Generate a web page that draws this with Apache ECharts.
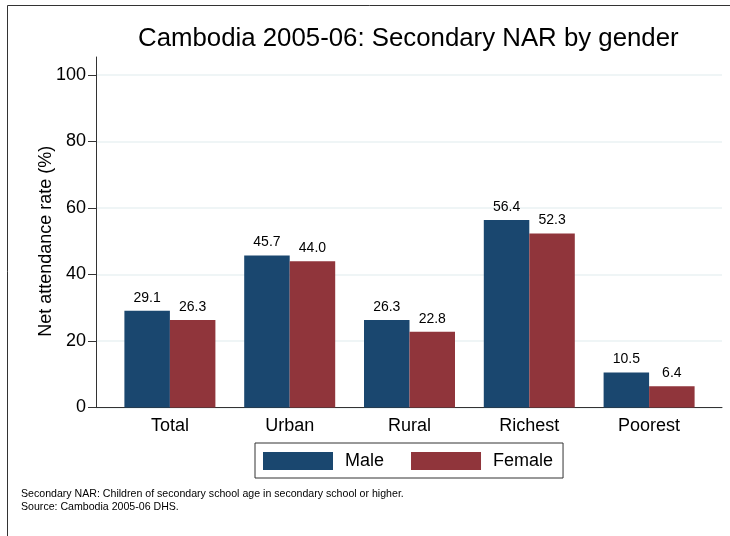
<!DOCTYPE html>
<html>
<head>
<meta charset="utf-8">
<script src="https://cdn.jsdelivr.net/npm/echarts@6/dist/echarts.min.js"></script>
<style>
html,body{margin:0;padding:0;background:#fff;}
#chart{width:730px;height:536px;}
</style>
</head>
<body>
<div id="chart"></div>
<script>
var categories = ['Total', 'Urban', 'Rural', 'Richest', 'Poorest'];
var maleValues = [29.1, 45.7, 26.3, 56.4, 10.5];
var femaleValues = [26.3, 44.0, 22.8, 52.3, 6.4];
var seriesNames = ['Male', 'Female'];
var yTicks = [0, 20, 40, 60, 80, 100];

var FONT = '"Liberation Sans", Arial, Helvetica, sans-serif';
var chart = echarts.init(document.getElementById('chart'), null, {renderer: 'canvas'});

var option = {
  backgroundColor: '#ffffff',
  animation: false,
  textStyle: {fontFamily: FONT},
  graphic: [{
    type: 'rect',
    shape: {x: 7.5, y: 5.5, width: 760, height: 600},
    style: {fill: 'none', stroke: '#333333', lineWidth: 1},
    silent: true, z: -10
  }],
  title: [{
    text: 'Cambodia 2005-06: Secondary NAR by gender',
    left: 138, top: 26, padding: 0,
    textStyle: {fontFamily: FONT, fontSize: 25.8, fontWeight: 'normal', color: '#000'}
  }, {
    text: 'Secondary NAR: Children of secondary school age in secondary school or higher.\nSource: Cambodia 2005-06 DHS.',
    left: 21, top: 487, padding: 0,
    textStyle: {fontFamily: FONT, fontSize: 10.6, lineHeight: 13.5, fontWeight: 'normal', color: '#000'}
  }],
  legend: {
    data: seriesNames,
    left: 255, top: 443,
    orient: 'horizontal',
    padding: [9, 10, 8, 8],
    itemWidth: 70, itemHeight: 18, itemGap: 27,
    icon: 'rect',
    borderColor: '#333333', borderWidth: 1, backgroundColor: '#fff',
    textStyle: {fontFamily: FONT, fontSize: 18, color: '#000', padding: [0, 0, 0, 7]}
  },
  grid: [
    {left: 96, right: 8, top: 57, bottom: 128.5},
    {left: 96, right: 8, top: 75, bottom: 128.5},
    {left: 110, right: 21, top: 75, bottom: 128.5}
  ],
  xAxis: [
    {gridIndex: 0, type: 'value', min: 0, max: 1,
     axisLine: {show: true, lineStyle: {color: '#333', width: 1}},
     axisTick: {show: false}, axisLabel: {show: false}, splitLine: {show: false}},
    {gridIndex: 1, type: 'value', min: 0, max: 1, show: false},
    {gridIndex: 2, type: 'category', data: categories,
     axisLine: {show: false}, axisTick: {show: false},
     axisLabel: {fontFamily: FONT, fontSize: 18, color: '#000', margin: 10}}
  ],
  yAxis: [
    {gridIndex: 0, type: 'value', min: 0, max: 105.35,
     axisLine: {show: true, lineStyle: {color: '#333', width: 1}},
     axisTick: {show: false}, axisLabel: {show: false}, splitLine: {show: false}},
    {gridIndex: 1, type: 'value', min: yTicks[0], max: yTicks[yTicks.length - 1], interval: 20,
     name: 'Net attendance rate (%)', nameLocation: 'middle', nameGap: 41, nameMoveOverlap: false,
     nameTextStyle: {fontFamily: FONT, fontSize: 18, color: '#000'},
     axisLine: {show: false},
     axisTick: {show: true, length: 8, lineStyle: {color: '#333'}},
     axisLabel: {fontFamily: FONT, fontSize: 18, color: '#000', margin: 10},
     splitLine: {show: true, lineStyle: {color: '#eaf2f3', width: 1.5}}},
    {gridIndex: 2, type: 'value', min: 0, max: 100, show: false}
  ],
  series: [{
    name: seriesNames[0], type: 'bar', xAxisIndex: 2, yAxisIndex: 2,
    data: maleValues, barWidth: 45.5, barGap: '0%',
    itemStyle: {color: '#1a476f'},
    label: {show: true, position: 'top', distance: 6, fontFamily: FONT, fontSize: 14, color: '#000',
            formatter: function (p) { return p.value.toFixed(1); }}
  }, {
    name: seriesNames[1], type: 'bar', xAxisIndex: 2, yAxisIndex: 2,
    data: femaleValues, barWidth: 45.5, barGap: '0%',
    itemStyle: {color: '#90353b'},
    label: {show: true, position: 'top', distance: 6, fontFamily: FONT, fontSize: 14, color: '#000',
            formatter: function (p) { return p.value.toFixed(1); }}
  }]
};
chart.setOption(option);
</script>
</body>
</html>
